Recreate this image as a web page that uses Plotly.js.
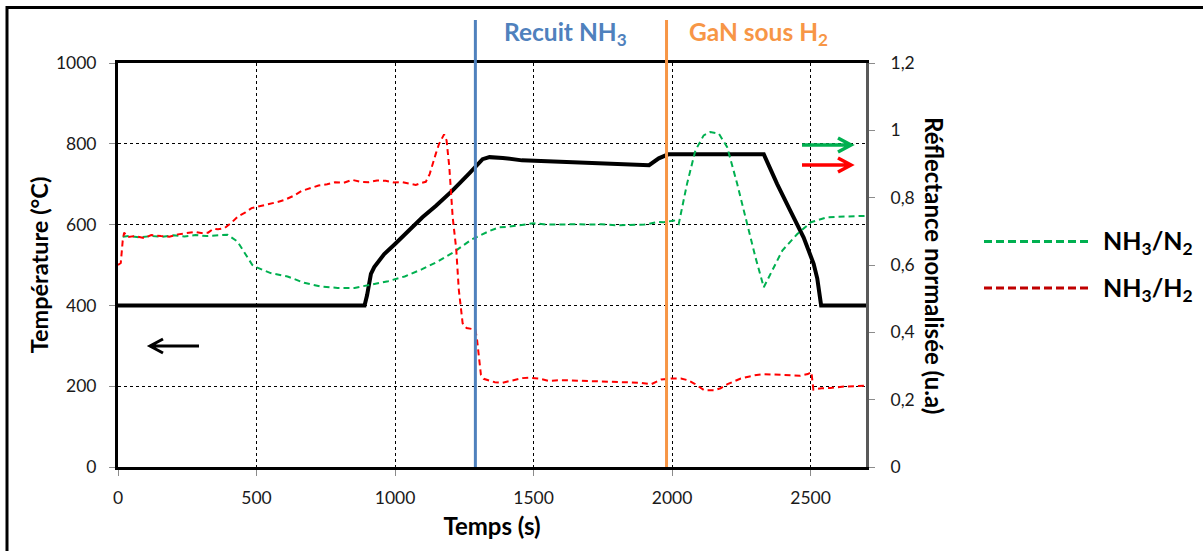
<!DOCTYPE html>
<html>
<head>
<meta charset="utf-8">
<script src="https://cdn.plot.ly/plotly-3.0.1.min.js"></script>
<style>
  html, body { margin: 0; padding: 0; background: #ffffff; }
  #chart { width: 1203px; height: 551px; }
</style>
</head>
<body>
<div id="chart"></div>
<script>
// ---------------- DATA ----------------
// Temperature (left axis, °C)
const tempTime = [0, 890, 899, 913, 925, 941, 961, 1000, 1058, 1099, 1147, 1207, 1268, 1292, 1316, 1341, 1389, 1458, 1745, 1917, 1952, 1986, 2331, 2379, 2427, 2475, 2511, 2524, 2538, 2700];
const tempValues = [400, 400, 425, 478, 495, 508, 527, 552, 592, 618, 646, 684, 727, 745, 762, 767, 765, 759, 752, 747, 764, 774, 774, 701, 634, 568, 503, 467, 400, 400];

// Normalised reflectance NH3/H2 (right axis)
const h2Time = [0, 10, 17, 22, 36, 60, 94, 120, 155, 185, 216, 250, 276, 300, 325, 345, 361, 385, 410, 434, 460, 482, 510, 542, 575, 603, 635, 663, 690, 724, 755, 784, 815, 845, 875, 905, 935, 966, 996, 1026, 1050, 1075, 1095, 1111, 1125, 1135, 1147, 1159, 1170, 1177, 1186, 1196, 1208, 1221, 1230, 1244, 1258, 1275, 1290, 1296, 1303, 1310, 1320, 1335, 1360, 1386, 1410, 1434, 1460, 1482, 1518, 1554, 1602, 1640, 1673, 1710, 1745, 1780, 1817, 1850, 1889, 1925, 1961, 1996, 2032, 2060, 2080, 2116, 2152, 2175, 2200, 2248, 2296, 2330, 2366, 2410, 2462, 2490, 2503, 2510, 2540, 2572, 2620, 2660, 2700];
const h2Values = [0.600, 0.606, 0.672, 0.696, 0.683, 0.686, 0.680, 0.689, 0.686, 0.684, 0.691, 0.694, 0.698, 0.695, 0.696, 0.708, 0.706, 0.710, 0.726, 0.745, 0.756, 0.769, 0.774, 0.780, 0.787, 0.794, 0.806, 0.820, 0.828, 0.836, 0.840, 0.846, 0.844, 0.853, 0.847, 0.846, 0.851, 0.850, 0.845, 0.846, 0.842, 0.838, 0.844, 0.847, 0.870, 0.901, 0.930, 0.960, 0.978, 0.988, 0.970, 0.890, 0.743, 0.646, 0.528, 0.427, 0.413, 0.410, 0.408, 0.378, 0.318, 0.274, 0.262, 0.258, 0.252, 0.250, 0.254, 0.260, 0.264, 0.265, 0.263, 0.256, 0.258, 0.257, 0.256, 0.254, 0.254, 0.253, 0.252, 0.251, 0.250, 0.246, 0.260, 0.263, 0.263, 0.257, 0.248, 0.228, 0.228, 0.234, 0.246, 0.263, 0.272, 0.276, 0.275, 0.274, 0.271, 0.276, 0.282, 0.230, 0.234, 0.235, 0.239, 0.240, 0.242];

// Normalised reflectance NH3/N2 (right axis)
const n2Time = [17, 40, 80, 120, 160, 200, 240, 280, 320, 360, 395, 431, 467, 485, 503, 551, 612, 672, 733, 793, 854, 914, 975, 1035, 1096, 1156, 1217, 1277, 1338, 1375, 1400, 1450, 1499, 1550, 1600, 1651, 1700, 1745, 1800, 1850, 1900, 1952, 1970, 2007, 2024, 2054, 2084, 2114, 2138, 2169, 2199, 2235, 2271, 2301, 2331, 2355, 2398, 2452, 2501, 2561, 2633, 2700];
const n2Values = [0.684, 0.686, 0.682, 0.686, 0.684, 0.688, 0.685, 0.689, 0.686, 0.689, 0.690, 0.670, 0.625, 0.600, 0.592, 0.576, 0.566, 0.547, 0.536, 0.532, 0.532, 0.541, 0.552, 0.566, 0.587, 0.611, 0.641, 0.676, 0.700, 0.712, 0.713, 0.718, 0.724, 0.720, 0.721, 0.721, 0.720, 0.721, 0.718, 0.719, 0.720, 0.728, 0.727, 0.732, 0.722, 0.841, 0.940, 0.985, 0.995, 0.990, 0.950, 0.841, 0.722, 0.623, 0.534, 0.574, 0.643, 0.692, 0.727, 0.742, 0.744, 0.746];

// Phase markers
const phaseTimes = [1290, 1980];
const phaseLabels = ['Recuit NH<sub>3</sub>', 'GaN sous H<sub>2</sub>'];
const phaseColors = ['#4F81BD', '#F79646'];

// Axis ticks
const xTicks = [0, 500, 1000, 1500, 2000, 2500];
const yTicks = [0, 200, 400, 600, 800, 1000];
const y2Ticks = [0, 0.2, 0.4, 0.6, 0.8, 1, 1.2];
const y2TickText = ['0', '0,2', '0,4', '0,6', '0,8', '1', '1,2'];

const seriesNames = ['NH<sub>3</sub>/N<sub>2</sub>', 'NH<sub>3</sub>/H<sub>2</sub>'];

// ---------------- LAYOUT HELPERS ----------------
const W = 1203, H = 551;
const M = {l: 118, r: 337, t: 63, b: 84};
const PW = W - M.l - M.r, PH = H - M.t - M.b;
const px = x => (x - M.l) / PW;            // pixel -> paper x
const py = y => (H - M.b - y) / PH;         // pixel -> paper y

const FONT = 'Lato, "Open Sans", sans-serif';

const traces = [
  {x: tempTime, y: tempValues, type: 'scatter', mode: 'lines', name: 'Température',
   line: {color: '#000000', width: 4}, yaxis: 'y', showlegend: false, hoverinfo: 'x+y'},
  {x: n2Time, y: n2Values, type: 'scatter', mode: 'lines', name: seriesNames[0],
   line: {color: '#00B050', width: 2, dash: '6px,4px'}, yaxis: 'y2', showlegend: false},
  {x: h2Time, y: h2Values, type: 'scatter', mode: 'lines', name: seriesNames[1],
   line: {color: '#FF0000', width: 2, dash: '6px,4px'}, yaxis: 'y2', showlegend: false}
];

const shapes = [];
const annotations = [];

// outer frame
shapes.push({type: 'rect', xref: 'paper', yref: 'paper', x0: px(7), x1: px(1260), y0: py(600), y1: py(7.5),
  line: {color: '#000000', width: 3}, fillcolor: 'rgba(0,0,0,0)', layer: 'above'});

// phase lines + labels
phaseTimes.forEach((t, i) => {
  shapes.push({type: 'line', xref: 'x', yref: 'paper', x0: t, x1: t, y0: 0, y1: py(20),
    line: {color: phaseColors[i], width: 3}, layer: 'above'});
});
annotations.push({xref: 'paper', yref: 'paper', x: px(565), y: py(34), text: '<b>' + phaseLabels[0] + '</b>',
  showarrow: false, xanchor: 'center', yanchor: 'middle', font: {family: FONT, size: 24.5, color: phaseColors[0]}});
annotations.push({xref: 'paper', yref: 'paper', x: px(758), y: py(34), text: '<b>' + phaseLabels[1] + '</b>',
  showarrow: false, xanchor: 'center', yanchor: 'middle', font: {family: FONT, size: 24.5, color: phaseColors[1]}});

// arrows (open chevron heads)
function arrow(xTail, xHead, y, color, w) {
  const dir = xHead > xTail ? -1 : 1;
  const hx = xHead + dir * 13, hy = 7;
  shapes.push({type: 'path', xref: 'paper', yref: 'paper',
    path: `M ${px(xTail)},${py(y)} L ${px(xHead)},${py(y)} M ${px(hx)},${py(y - hy)} L ${px(xHead)},${py(y)} L ${px(hx)},${py(y + hy)}`,
    line: {color: color, width: w}, layer: 'above'});
}
arrow(199, 150, 346, '#000000', 3);
arrow(802, 851, 145, '#00B050', 3.5);
arrow(802, 851, 165, '#FF0000', 3.5);

// right axis title (reads top to bottom)
annotations.push({xref: 'paper', yref: 'paper', x: px(935), y: py(265), text: '<b>Réflectance normalisée (u.a)</b>',
  textangle: 90, showarrow: false, xanchor: 'center', yanchor: 'middle', font: {family: FONT, size: 24, color: '#000000'}});

// custom legend
const legendColors = ['#00B050', '#C00000'];
const legendY = [241.5, 288];
seriesNames.forEach((nm, i) => {
  shapes.push({type: 'line', xref: 'paper', yref: 'paper', x0: px(984), x1: px(1088), y0: py(legendY[i]), y1: py(legendY[i]),
    line: {color: legendColors[i], width: 3, dash: '8px,4px'}});
  annotations.push({xref: 'paper', yref: 'paper', x: px(1101), y: py(legendY[i] + 1), text: '<b>' + nm + '</b>',
    showarrow: false, xanchor: 'left', yanchor: 'middle', font: {family: FONT, size: 25, color: '#000000'}});
});

const layout = {
  width: W, height: H,
  margin: M,
  paper_bgcolor: '#ffffff', plot_bgcolor: '#ffffff',
  showlegend: false,
  font: {family: FONT, size: 16, color: '#1a1a1a'},
  xaxis: {
    range: [0, 2700], tickvals: xTicks, ticks: 'outside', ticklen: 6, tickcolor: '#8c8c8c', tickwidth: 1,
    ticklabelstandoff: 7,
    showline: true, linecolor: '#000000', linewidth: 3, mirror: true,
    showgrid: true, gridcolor: '#000000', griddash: 'dot', gridwidth: 1, zeroline: false,
    tickfont: {family: FONT, size: 17.5, color: '#1a1a1a'},
    title: {text: '<b>Temps (s)</b>', font: {family: FONT, size: 24, color: '#000000'}, standoff: 12}
  },
  yaxis: {
    range: [0, 1000], tickvals: yTicks, ticks: 'outside', ticklen: 6, tickcolor: '#8c8c8c', tickwidth: 1,
    ticklabelstandoff: 9,
    showline: true, linecolor: '#000000', linewidth: 3, mirror: false,
    showgrid: true, gridcolor: '#000000', griddash: 'dot', gridwidth: 1, zeroline: false,
    tickfont: {family: FONT, size: 17.5, color: '#1a1a1a'},
    title: {text: '<b>Température (°C)</b>', font: {family: FONT, size: 23.5, color: '#000000'}, standoff: 1}
  },
  yaxis2: {
    range: [0, 1.2], overlaying: 'y', side: 'right', tickvals: y2Ticks, ticktext: y2TickText,
    ticks: 'outside', ticklen: 6, tickcolor: '#8c8c8c', tickwidth: 1, ticklabelstandoff: 12,
    showline: true, linecolor: '#595959', linewidth: 3, showgrid: false, zeroline: false,
    tickfont: {family: FONT, size: 17.5, color: '#1a1a1a'}
  },
  shapes: shapes,
  annotations: annotations
};

Plotly.newPlot('chart', traces, layout, {displayModeBar: false, staticPlot: true});
</script>
</body>
</html>
